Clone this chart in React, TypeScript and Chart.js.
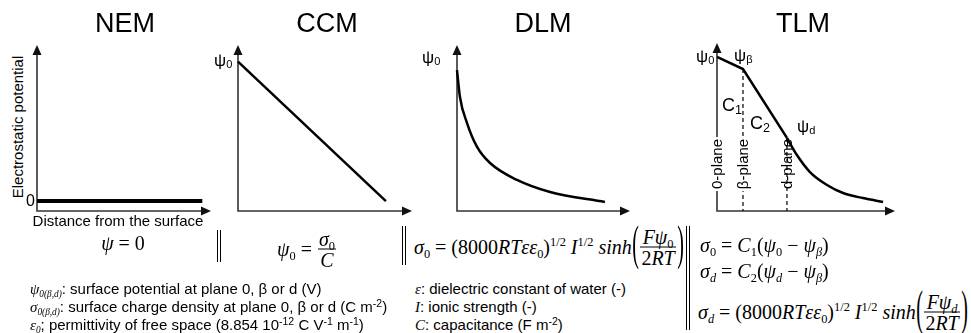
import React, { useEffect, useRef } from "react";
import { Chart, registerables } from "chart.js";

Chart.register(...registerables);

// ---------- data (distance / potential in arbitrary units, axes run 0..10) ----------
const AXIS_MAX = 10;
const modelTitles = ["NEM", "CCM", "DLM", "TLM"];

const nemDistance = [0, 9.5];
const nemPotential = [0.6, 0.6];

const ccmDistance = [0, 8.5];
const ccmPotential = [9.0, 0.6];

const dlmDistance = [0, 0.17, 0.58, 1.16, 1.91, 3.47, 5.38, 8.55];
const dlmPotential = [8.49, 6.87, 5.3, 3.86, 2.89, 1.87, 1.14, 0.54];

const tlmLinearDistance = [0, 1.46, 3.93];
const tlmLinearPotential = [9.17, 8.45, 4.35];
const tlmDiffuseDistance = [3.93, 4.49, 5.22, 6.18, 7.08, 8.2, 9.33];
const tlmDiffusePotential = [4.35, 3.33, 2.32, 1.55, 1.07, 0.77, 0.54];
const tlmPlaneDistance = [1.46, 3.93]; // beta-plane, d-plane
const tlmPlanePotential = [8.45, 4.35];

// ---------- layout ----------
const SANS = '"Liberation Sans", Arial, Helvetica, sans-serif';
const SERIF = '"Liberation Serif", "Times New Roman", serif';
const PAD = 10;

type Box = { x0: number; xT: number; yT: number; y0: number };
const boxes: Box[] = [
  { x0: 37, xT: 211, yT: 45, y0: 211 },
  { x0: 238, xT: 412, yT: 45, y0: 211 },
  { x0: 457, xT: 630, yT: 45, y0: 211 },
  { x0: 717, xT: 895, yT: 43, y0: 211 },
];
const titleCenters = [125, 327, 543, 803];

const pts = (xs: number[], ys: number[]) => xs.map((x, i) => ({ x, y: ys[i] }));

const solid = (xs: number[], ys: number[], width = 2.5, curve = false) => ({
  data: pts(xs, ys),
  borderColor: "#000",
  borderWidth: width,
  pointRadius: 0,
  fill: false,
  tension: curve ? 0.4 : 0,
  cubicInterpolationMode: curve ? "monotone" : "default",
  borderCapStyle: "butt",
  clip: false,
});

const dashed = (x: number, yTop: number) => ({
  data: [
    { x, y: yTop },
    { x, y: 0 },
  ],
  borderColor: "#000",
  borderWidth: 1.2,
  borderDash: [4, 3],
  pointRadius: 0,
  fill: false,
  clip: false,
});

const panelDatasets = [
  [solid(nemDistance, nemPotential, 4)],
  [solid(ccmDistance, ccmPotential, 2.5)],
  [solid(dlmDistance, dlmPotential, 2.5, true)],
  [
    solid(tlmLinearDistance, tlmLinearPotential, 2.5),
    solid(tlmDiffuseDistance, tlmDiffusePotential, 2.5, true),
    ...tlmPlaneDistance.map((x, i) => dashed(x, tlmPlanePotential[i])),
  ],
];

const axesArrows = {
  id: "axesArrows",
  beforeDatasetsDraw(chart: any) {
    const { ctx } = chart;
    const { left, right, top, bottom } = chart.chartArea;
    ctx.save();
    ctx.strokeStyle = "#333";
    ctx.fillStyle = "#111";
    ctx.lineWidth = 1.6;
    ctx.beginPath();
    ctx.moveTo(left, top + 8);
    ctx.lineTo(left, bottom);
    ctx.lineTo(right - 8, bottom);
    ctx.stroke();
    ctx.beginPath();
    ctx.moveTo(left, top);
    ctx.lineTo(left - 4.5, top + 10);
    ctx.lineTo(left + 4.5, top + 10);
    ctx.closePath();
    ctx.fill();
    ctx.beginPath();
    ctx.moveTo(right, bottom);
    ctx.lineTo(right - 10, bottom - 4.5);
    ctx.lineTo(right - 10, bottom + 4.5);
    ctx.closePath();
    ctx.fill();
    ctx.restore();
  },
};

function PanelChart({ box, datasets }: { box: Box; datasets: any[] }) {
  const ref = useRef<HTMLCanvasElement>(null);
  const w = box.xT - box.x0 + 2 * PAD;
  const h = box.y0 - box.yT + 2 * PAD;
  useEffect(() => {
    const chart = new Chart(ref.current as HTMLCanvasElement, {
      type: "line",
      data: { datasets } as any,
      options: {
        animation: false,
        responsive: false,
        maintainAspectRatio: false,
        devicePixelRatio: 1,
        events: [],
        layout: { padding: PAD },
        plugins: { legend: { display: false }, tooltip: { enabled: false }, title: { display: false } },
        scales: {
          x: { type: "linear", min: 0, max: AXIS_MAX, display: false },
          y: { type: "linear", min: 0, max: AXIS_MAX, display: false },
        },
      } as any,
      plugins: [axesArrows],
    });
    return () => chart.destroy();
  }, []);
  return (
    <canvas
      ref={ref}
      width={w}
      height={h}
      style={{ position: "absolute", left: box.x0 - PAD, top: box.yT - PAD, width: w, height: h }}
    />
  );
}

// ---------- text helpers ----------
function Txt({
  x,
  base,
  size = 15,
  align = "left",
  font = SANS,
  style,
  children,
}: {
  x: number;
  base: number;
  size?: number;
  align?: "left" | "center" | "right";
  font?: string;
  style?: React.CSSProperties;
  children: React.ReactNode;
}) {
  const k = font === SERIF ? 0.8375 : 0.8465;
  const top = base - size * k;
  const transform = align === "center" ? "translateX(-50%)" : align === "right" ? "translateX(-100%)" : undefined;
  return (
    <div
      style={{
        position: "absolute",
        left: x,
        top,
        fontFamily: font,
        fontSize: size,
        lineHeight: `${size}px`,
        whiteSpace: "nowrap",
        transform,
        color: "#000",
        ...style,
      }}
    >
      {children}
    </div>
  );
}

function Rot({ cx, cy, size = 15, bg, children }: { cx: number; cy: number; size?: number; bg?: boolean; children: React.ReactNode }) {
  return (
    <div
      style={{
        position: "absolute",
        left: cx,
        top: cy,
        transform: "translate(-50%, -50%) rotate(-90deg)",
        fontFamily: SANS,
        fontSize: size,
        lineHeight: `${size + 1}px`,
        whiteSpace: "nowrap",
        background: bg ? "#fff" : "transparent",
        padding: bg ? "0 2px" : 0,
        color: "#000",
      }}
    >
      {children}
    </div>
  );
}

const Sub = ({ children, size = 0.62, drop = 0.35, font }: { children: React.ReactNode; size?: number; drop?: number; font?: string }) => (
  <span style={{ fontSize: `${size}em`, verticalAlign: `-${drop}em`, lineHeight: 0, fontFamily: font }}>{children}</span>
);
const Sup = ({ children, size = 0.62, rise = 0.6 }: { children: React.ReactNode; size?: number; rise?: number }) => (
  <span style={{ fontSize: `${size}em`, verticalAlign: `${rise}em`, lineHeight: 0 }}>{children}</span>
);

const Run = ({ children }: { children: React.ReactNode }) => (
  <span style={{ whiteSpace: "pre", position: "relative", top: -1, lineHeight: "20px" }}>{children}</span>
);

const Frac = ({ num, den }: { num: React.ReactNode; den: React.ReactNode }) => (
  <span style={{ display: "inline-flex", flexDirection: "column", alignItems: "center", margin: "0 1px" }}>
    <span style={{ lineHeight: "20px", padding: "0 1px", whiteSpace: "pre" }}>{num}</span>
    <span style={{ alignSelf: "stretch", borderTop: "1px solid #000" }} />
    <span style={{ lineHeight: "20px", padding: "0 1px", whiteSpace: "pre" }}>{den}</span>
  </span>
);

const BigParen = ({ children }: { children: React.ReactNode }) => (
  <span style={{ display: "inline-block", lineHeight: "20px", transform: "translateY(-5px) scale(1, 2.4)", margin: "0 0.5px" }}>
    {children}
  </span>
);

function MathRow({ x, barY, children }: { x: number; barY: number; children: React.ReactNode }) {
  return (
    <div
      style={{
        position: "absolute",
        left: x,
        top: barY,
        transform: "translateY(-50%)",
        display: "flex",
        alignItems: "center",
        fontFamily: SERIF,
        fontSize: 20,
        lineHeight: "20px",
        whiteSpace: "nowrap",
        color: "#000",
      }}
    >
      {children}
    </div>
  );
}

function DoubleBar({ x, y1, y2 }: { x: number; y1: number; y2: number }) {
  return (
    <div
      style={{
        position: "absolute",
        left: x,
        top: y1,
        height: y2 - y1,
        width: 2,
        borderLeft: "1.5px solid #000",
        borderRight: "1.5px solid #000",
      }}
    />
  );
}

const I = ({ children }: { children: React.ReactNode }) => <i style={{ fontFamily: SERIF }}>{children}</i>;

const GouyChapman = ({ sub }: { sub: React.ReactNode }) => (
  <>
    <Run>
      <I>σ</I>
      <Sub>{sub}</Sub>
      {" = (8000"}
      <I>RTεε</I>
      <Sub>0</Sub>
      {")"}
      <Sup>1/2</Sup>
      {" "}
      <I>I</I>
      <Sup>1/2</Sup>
      {" "}
      <I>sinh</I>
    </Run>
    <BigParen>(</BigParen>
    <Frac
      num={
        <>
          <I>Fψ</I>
          <Sub>{sub}</Sub>
        </>
      }
      den={
        <>
          2<I>RT</I>
        </>
      }
    />
    <BigParen>)</BigParen>
  </>
);

export default function App() {
  useEffect(() => {
    document.body.style.margin = "0";
    document.body.style.background = "#fff";
  }, []);

  return (
    <div
      style={{
        position: "fixed",
        left: 0,
        top: 0,
        width: 971,
        height: 333,
        overflow: "hidden",
        background: "#fff",
      }}
    >
      {boxes.map((b, i) => (
        <PanelChart key={i} box={b} datasets={panelDatasets[i]} />
      ))}

      {/* titles */}
      {modelTitles.map((t, i) => (
        <Txt key={t} x={titleCenters[i]} base={33} size={27} align="center">
          {t}
        </Txt>
      ))}

      {/* NEM labels */}
      <Rot cx={18} cy={127}>Electrostatic potential</Rot>
      <Txt x={35} base={207} size={16} align="right">
        0
      </Txt>
      <Txt x={118} base={226} size={15} align="center">
        Distance from the surface
      </Txt>

      {/* CCM / DLM labels */}
      <Txt x={214} base={66} size={17}>
        ψ<Sub size={0.65} drop={0.15}>0</Sub>
      </Txt>
      <Txt x={422} base={63} size={17}>
        ψ<Sub size={0.65} drop={0.15}>0</Sub>
      </Txt>

      {/* TLM labels */}
      <Txt x={696} base={62} size={17}>
        ψ<Sub size={0.65} drop={0.15}>0</Sub>
      </Txt>
      <Txt x={734} base={61} size={17}>
        ψ<Sub size={0.65} drop={0.15}>β</Sub>
      </Txt>
      <Txt x={722} base={111} size={18}>
        C<Sub size={0.7} drop={0.2}>1</Sub>
      </Txt>
      <Txt x={750} base={129} size={18}>
        C<Sub size={0.7} drop={0.2}>2</Sub>
      </Txt>
      <Txt x={797} base={132} size={17}>
        ψ<Sub size={0.65} drop={0.15}>d</Sub>
      </Txt>
      <Rot cx={717} cy={164} bg>
        0-plane
      </Rot>
      <Rot cx={743} cy={164} bg>
        β-plane
      </Rot>
      <Rot cx={787} cy={164}>
        d-plane
      </Rot>

      {/* equations */}
      <Txt x={123} base={250} size={20} font={SERIF} align="center">
        <I>ψ</I> = 0
      </Txt>
      <DoubleBar x={217} y1={230} y2={262} />

      <MathRow x={277} barY={249}>
        <Run>
          <I>ψ</I>
          <Sub>0</Sub>
          {" = "}
        </Run>
        <Frac
          num={
            <>
              <I>σ</I>
              <Sub>0</Sub>
            </>
          }
          den={<I>C</I>}
        />
      </MathRow>
      <DoubleBar x={402} y1={226} y2={265} />

      <MathRow x={414} barY={247}>
        <GouyChapman sub="0" />
      </MathRow>
      <DoubleBar x={686} y1={226} y2={330} />

      <Txt x={700} base={252} size={20} font={SERIF}>
        <I>σ</I>
        <Sub>0</Sub> = <I>C</I>
        <Sub>1</Sub>(<I>ψ</I>
        <Sub>0</Sub> − <I>ψ</I>
        <Sub>
          <I>β</I>
        </Sub>
        )
      </Txt>
      <Txt x={700} base={278} size={20} font={SERIF}>
        <I>σ</I>
        <Sub>
          <I>d</I>
        </Sub>{" "}
        = <I>C</I>
        <Sub>2</Sub>(<I>ψ</I>
        <Sub>
          <I>d</I>
        </Sub>{" "}
        − <I>ψ</I>
        <Sub>
          <I>β</I>
        </Sub>
        )
      </Txt>
      <MathRow x={698} barY={312}>
        <GouyChapman sub={<I>d</I>} />
      </MathRow>

      {/* legends */}
      <Txt x={30} base={294} size={15}>
        <I>ψ</I>
        <Sub font={SERIF}>
          <I>0(β,d)</I>
        </Sub>
        : surface potential at plane 0, β or d (V)
      </Txt>
      <Txt x={30} base={312} size={15}>
        <I>σ</I>
        <Sub font={SERIF}>
          <I>0(β,d)</I>
        </Sub>
        : surface charge density at plane 0, β or d (C m<Sup size={0.7} rise={0.45}>-2</Sup>)
      </Txt>
      <Txt x={30} base={330} size={15}>
        <I>ε</I>
        <Sub font={SERIF}>
          <I>0</I>
        </Sub>
        ; permittivity of free space (8.854 10<Sup size={0.7} rise={0.45}>-12</Sup> C V
        <Sup size={0.7} rise={0.45}>-1</Sup> m<Sup size={0.7} rise={0.45}>-1</Sup>)
      </Txt>

      <Txt x={415} base={294} size={15}>
        <I>ε</I>: dielectric constant of water (-)
      </Txt>
      <Txt x={415} base={312} size={15}>
        <I>I</I>: ionic strength (-)
      </Txt>
      <Txt x={415} base={330} size={15}>
        <I>C</I>: capacitance (F m<Sup size={0.7} rise={0.45}>-2</Sup>)
      </Txt>
    </div>
  );
}
